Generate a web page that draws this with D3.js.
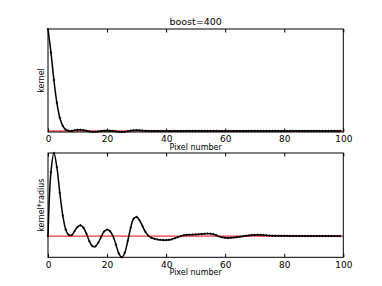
<!DOCTYPE html>
<html><head><meta charset="utf-8">
<script src="https://cdn.jsdelivr.net/npm/d3@7"></script>
<style>body{margin:0;background:#fff}svg{display:block}text{font-family:"DejaVu Sans",sans-serif}</style>
</head><body><svg id="c" width="382" height="286"></svg>
<script>
const title = "boost=400";
const xLabel = "Pixel number";
const yLabelTop = "kernel";
const yLabelBottom = "kernel*radius";
const xTicks = [0, 20, 40, 60, 80, 100];
const pixels = d3.range(0, 100);
const kernel = [1.0,0.77,0.50,0.277,0.13,0.05,0.013,0.002,0.001,0.0067,
0.011,0.0118,0.0083,0.0023,-0.0043,-0.008,-0.0078,-0.0047,-0.0006,0.0029,
0.0039,0.0029,0.0,-0.0043,-0.0088,-0.010,-0.0077,-0.0022,0.0036,0.0072,
0.0077,0.0061,0.0038,0.0015,0.0001,-0.0006,-0.0009,-0.0011,-0.0012,-0.0012,
-0.0012,-0.0011,-0.0009,-0.0006,-0.0003,0.0,0.0002,0.0003,0.00035,0.00037,
0.0004,0.00043,0.00048,0.00053,0.00056,0.0005,0.0004,0.00018,-0.00009,-0.00025,
-0.00033,-0.00036,-0.00032,-0.00027,-0.00019,-0.0001,-0.00003,0.00004,0.00012,0.00017,
0.0002,0.00021,0.00019,0.00016,0.00012,0.00008,0.00006,0.00005,0.00005,0.00004,
0.00004,0.00003,0.00003,0.00003,0.00002,0.00002,0.00002,0.00002,0.00001,0.00001,
0.00001,0.00001,0.00001,0.00001,0.00001,0.0,0.0,0.0,0.0,0.0];
const kernelRadius = [0,0.77,1.0,0.83,0.52,0.25,0.08,0.015,0.01,0.06,
0.11,0.13,0.10,0.03,-0.06,-0.12,-0.125,-0.08,-0.01,0.055,
0.078,0.06,0.0,-0.10,-0.21,-0.255,-0.20,-0.06,0.10,0.21,
0.23,0.19,0.12,0.05,0.005,-0.02,-0.032,-0.04,-0.045,-0.048,
-0.048,-0.045,-0.037,-0.025,-0.012,0.0,0.01,0.015,0.017,0.018,
0.02,0.022,0.025,0.028,0.03,0.028,0.022,0.01,-0.005,-0.015,
-0.02,-0.022,-0.02,-0.017,-0.012,-0.007,-0.002,0.003,0.008,0.012,
0.014,0.015,0.014,0.012,0.009,0.006,0.005,0.004,0.004,0.003,
0.003,0.003,0.002,0.002,0.002,0.002,0.001,0.001,0.001,0.001,
0.001,0.001,0.001,0.001,0.0,0.0,0.0,0.0,0.0,0.0];
const svg = d3.select("#c");
const L = 48, R = 343.3;
const x = d3.scaleLinear().domain([0, 100]).range([L, R]);

function panel(y0, y1, vals, ylab, ttl, xlabBase) {
  const ext = d3.extent(vals);
  const y = d3.scaleLinear().domain(ext).range([y1, y0]);
  const g = svg.append("g");
  g.append("line").attr("x1", L).attr("x2", R).attr("y1", y(0)).attr("y2", y(0))
    .attr("stroke", "#ff0000").attr("stroke-width", 1);
  const pts = pixels.map((p, i) => [p, vals[i]]);
  g.append("path").datum(pts)
    .attr("d", d3.line().x(d => x(d[0])).y(d => y(d[1])).curve(d3.curveCatmullRom.alpha(0.5)))
    .attr("fill", "none").attr("stroke", "#000").attr("stroke-width", 1.5);
  g.selectAll("path.m").data(pts).enter().append("path").attr("class", "m")
    .attr("d", d => `M${x(d[0]) - 1.2},${y(d[1])}h2.4M${x(d[0])},${y(d[1]) - 1.2}v2.4`)
    .attr("stroke", "#000").attr("stroke-width", 0.8);
  const bAx = d3.axisBottom(x).tickValues(xTicks).tickSizeInner(-3.5).tickSizeOuter(0).tickPadding(4);
  const gb = g.append("g").attr("transform", `translate(0,${y1})`).call(bAx);
  gb.select(".domain").remove();
  gb.selectAll("text").attr("font-size", 9).attr("fill", "#000").attr("font-family", "DejaVu Sans");
  gb.selectAll("line").attr("stroke", "#000");
  const tAx = d3.axisTop(x).tickValues(xTicks).tickSizeInner(-3.5).tickSizeOuter(0).tickFormat("");
  const gt = g.append("g").attr("transform", `translate(0,${y0})`).call(tAx);
  gt.select(".domain").remove();
  gt.selectAll("line").attr("stroke", "#000");
  g.append("rect").attr("x", L).attr("y", y0).attr("width", R - L).attr("height", y1 - y0)
    .attr("fill", "none").attr("stroke", "#000").attr("stroke-width", 1);
  g.append("text").attr("x", (L + R) / 2).attr("y", xlabBase).attr("text-anchor", "middle")
    .attr("font-size", 8).text(xLabel);
  g.append("text").attr("transform", `translate(44,${(y0 + y1) / 2}) rotate(-90)`)
    .attr("text-anchor", "middle").attr("font-size", 8).text(ylab);
  if (ttl) g.append("text").attr("x", (L + R) / 2).attr("y", 24.5).attr("text-anchor", "middle")
    .attr("font-size", 9.5).text(ttl);
}
panel(29, 132, kernel, yLabelTop, title, 150);
panel(153, 257.3, kernelRadius, yLabelBottom, null, 275);
</script></body></html>
